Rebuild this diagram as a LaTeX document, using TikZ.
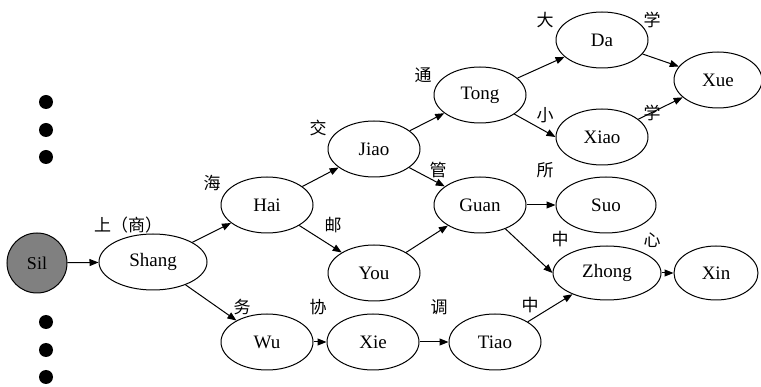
\documentclass[tikz,border=0pt]{standalone}
\usepackage{fontspec}
\setmainfont{Liberation Serif}
\newfontfamily\cjk{Noto Sans CJK SC}
\usetikzlibrary{shapes.geometric,arrows.meta}
\begin{document}
\begin{tikzpicture}[x=1pt,y=-1pt,
 el/.style={draw, ellipse, line width=1pt, minimum width=92pt, minimum height=56pt, inner sep=0pt, font=\fontsize{19}{19}\selectfont},
 arr/.style={-{Triangle[length=9pt,width=7pt]}, line width=1pt},
 lab/.style={font=\cjk\fontsize{17}{17}\selectfont, inner sep=0pt},
 dot/.style={circle, fill=black, minimum size=14pt, inner sep=0pt}]
\useasboundingbox (0,0) rectangle (761,387);
% nodes
\node[draw, circle, fill=gray, line width=1pt, minimum size=60pt, inner sep=0pt, font=\fontsize{18}{18}\selectfont] (sil) at (37,263) {Sil};
\node[el, minimum width=108pt] (shang) at (153,262) {Shang};
\node[el] (hai) at (267,205) {Hai};
\node[el] (jiao) at (374,149) {Jiao};
\node[el] (you) at (374,273) {You};
\node[el] (tong) at (480,95) {Tong};
\node[el] (guan) at (480,205) {Guan};
\node[el] (da) at (602,40) {Da};
\node[el] (xiao) at (602,137) {Xiao};
\node[el, minimum width=100pt] (suo) at (606,205) {Suo};
\node[el, minimum width=88pt] (xue) at (718,80) {Xue};
\node[el, minimum width=108pt, minimum height=54pt] (zhong) at (607,273) {Zhong};
\node[el, minimum width=84pt, minimum height=54pt] (xin) at (716,273) {Xin};
\node[el] (wu) at (267,342) {Wu};
\node[el] (xie) at (373,342) {Xie};
\node[el] (tiao) at (495,342) {Tiao};
% dots
\node[dot] (d1) at (46,102) {};
\node[dot] (d2) at (46,130) {};
\node[dot] (d3) at (46,157) {};
\node[dot] (d4) at (46,322) {};
\node[dot] (d5) at (46,350) {};
\node[dot] (d6) at (46,377) {};
% edges
\draw[arr] (sil) -- (shang);
\draw[arr] (shang) -- (hai);
\draw[arr] (shang) -- (wu);
\draw[arr] (hai) -- (jiao);
\draw[arr] (hai) -- (you);
\draw[arr] (jiao) -- (tong);
\draw[arr] (jiao) -- (guan);
\draw[arr] (you) -- (guan);
\draw[arr] (tong) -- (da);
\draw[arr] (tong) -- (xiao.west);
\draw[arr] (da) -- (xue);
\draw[arr] (xiao) -- (xue);
\draw[arr] (guan) -- (suo);
\draw[arr] (guan) -- (zhong.west);
\draw[arr] (tiao) -- (zhong);
\draw[arr] (wu) -- (xie);
\draw[arr] (xie) -- (tiao);
\draw[arr] (zhong) -- (xin);
% labels
\node[lab] (l1) at (128,225) {上（商）};
\node[lab] (l2) at (212,183) {海};
\node[lab] (l3) at (318,128) {交};
\node[lab] (l4) at (333,225) {邮};
\node[lab] (l5) at (423,75) {通};
\node[lab] (l6) at (545,20) {大};
\node[lab] (l7) at (652,20) {学};
\node[lab] (l8) at (545,115) {小};
\node[lab] (l9) at (652,113) {学};
\node[lab] (l10) at (438,170) {管};
\node[lab] (l11) at (545,170) {所};
\node[lab] (l12) at (242,307) {务};
\node[lab] (l13) at (318,307) {协};
\node[lab] (l14) at (439,307) {调};
\node[lab] (l15) at (530,305) {中};
\node[lab] (l16) at (560,239) {中};
\node[lab] (l17) at (652,240) {心};
\end{tikzpicture}
\end{document}
